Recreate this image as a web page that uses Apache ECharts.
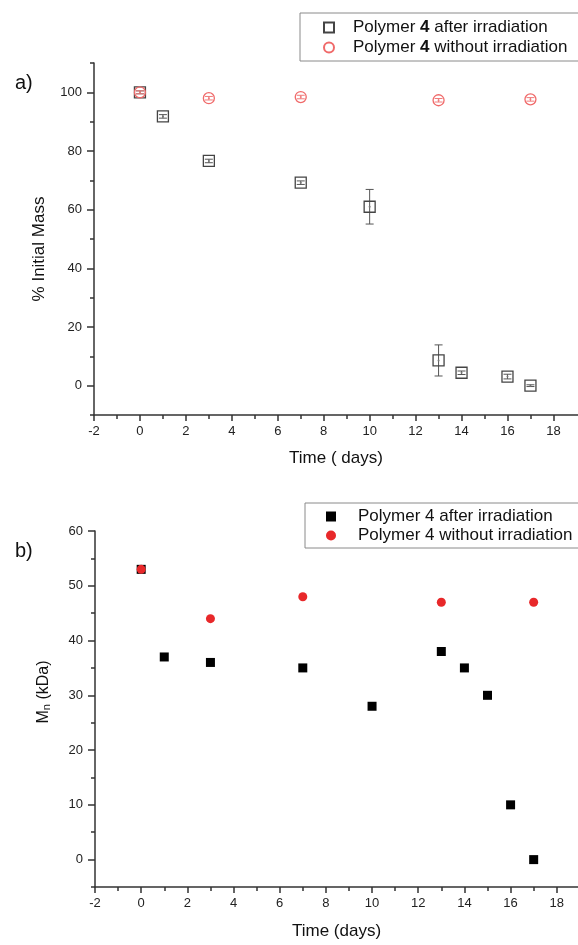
<!DOCTYPE html>
<html>
<head>
<meta charset="utf-8">
<script src="https://cdn.jsdelivr.net/npm/echarts@6/dist/echarts.min.js"></script>
<style>
  html, body { margin: 0; padding: 0; background: #fff; }
  #massChart { width: 578px; height: 472px; }
  #mnChart { width: 578px; height: 473px; }
</style>
</head>
<body>
<!-- a) mass loss, b) molecular weight -->
<div id="massChart"></div>
<div id="mnChart"></div>

<script>
// ---- data ----
var irrDays = [0, 1, 3, 7, 10, 13, 14, 16, 17];
var massIrr = [100, 91.8, 76.6, 69.2, 61, 8.6, 4.4, 3.1, 0];
var massIrrErr = [0.5, 0.6, 0.6, 0.6, 5.9, 5.3, 0.6, 0.8, 0.3];

var ctrlDays = [0, 3, 7, 13, 17];
var massCtrl = [100, 98, 98.4, 97.3, 97.6];
var massCtrlErr = [0.5, 0.6, 0.6, 0.6, 0.6];

var mnIrrDays = [0, 1, 3, 7, 10, 13, 14, 15, 16, 17];
var mnIrr = [53, 37, 36, 35, 28, 38, 35, 30, 10, 0];
var mnCtrlDays = [0, 3, 7, 13, 17];
var mnCtrl = [53, 44, 48, 47, 47];

var xMajor = [-2, 0, 2, 4, 6, 8, 10, 12, 14, 16, 18];
var xMinor = [-1, 1, 3, 5, 7, 9, 11, 13, 15, 17];
var massMajor = [0, 20, 40, 60, 80, 100];
var massMinor = [-10, 10, 30, 50, 70, 90, 110];
var mnMajor = [0, 10, 20, 30, 40, 50, 60];
var mnMinor = [-5, 5, 15, 25, 35, 45, 55];

var nameIrr = 'Polymer 4 after irradiation';
var nameCtrl = 'Polymer 4 without irradiation';

var FONT = '"Liberation Sans", Arial, sans-serif';
var INK = '#333';

function pairs(xs, ys, errs) {
  return xs.map(function (x, i) {
    return errs ? [x, ys[i], errs[i]] : [x, ys[i]];
  });
}

// axis pair: main one with labels + long ticks, a bare one for the minor ticks
function axisPair(min, max, major, minor, name, isX) {
  var main = {
    type: 'value', min: min, max: max,
    name: name, nameLocation: 'middle',
    axisLine: { show: true, onZero: false, lineStyle: { color: INK, width: 1.5 } },
    axisTick: { show: true, customValues: major, length: isX ? 6 : 7, lineStyle: { color: INK, width: 1.5 } },
    axisLabel: { customValues: major, color: '#222', fontSize: 13, fontFamily: FONT, margin: isX ? 10 : 12 },
    splitLine: { show: false }
  };
  var bare = {
    type: 'value', min: min, max: max,
    axisLine: { show: false, onZero: false },
    axisTick: { show: true, customValues: minor, length: 4, lineStyle: { color: INK, width: 1.5 } },
    axisLabel: { show: false },
    splitLine: { show: false }
  };
  if (isX) { main.position = 'bottom'; bare.position = 'bottom'; }
  else { main.position = 'left'; bare.position = 'left'; }
  return [main, bare];
}

function errorBars(color) {
  return function (params, api) {
    var x = api.value(0), y = api.value(1), e = api.value(2);
    var hi = api.coord([x, y + e]);
    var lo = api.coord([x, y - e]);
    var w = 4;
    var st = { stroke: color, lineWidth: 1 };
    return {
      type: 'group',
      children: [
        { type: 'line', shape: { x1: hi[0], y1: hi[1], x2: lo[0], y2: lo[1] }, style: st },
        { type: 'line', shape: { x1: hi[0] - w, y1: hi[1], x2: hi[0] + w, y2: hi[1] }, style: st },
        { type: 'line', shape: { x1: lo[0] - w, y1: lo[1], x2: lo[0] + w, y2: lo[1] }, style: st }
      ]
    };
  };
}

// ================= a) =================
var massX = axisPair(-2, 19.07, xMajor, xMinor, 'Time ( days)', true);
massX[0].nameGap = 35;
massX[0].nameTextStyle = { fontSize: 17, fontFamily: FONT, color: '#111' };
var massY = axisPair(-10, 110, massMajor, massMinor, '% Initial Mass', false);
massY[0].nameGap = 46;
massY[0].nameTextStyle = { fontSize: 17, fontFamily: FONT, color: '#111', padding: [0, 20, 0, 0] };

var chartA = echarts.init(document.getElementById('massChart'));
chartA.setOption({
  animation: false,
  title: {
    text: 'a)', left: 15, top: 73, padding: 0,
    textStyle: { fontSize: 20, fontWeight: 'normal', fontFamily: FONT, color: '#111' }
  },
  legend: {
    orient: 'vertical', left: 300, top: 13,
    padding: [6, 30, 5, 23],
    itemWidth: 10, itemHeight: 10, itemGap: 3,
    borderColor: '#8a8a8a', borderWidth: 1,
    selectedMode: false,
    data: [nameIrr, nameCtrl],
    formatter: function (n) { return n.replace('4', '{b|4}'); },
    textStyle: {
      fontSize: 17, fontFamily: FONT, color: '#111', padding: [0, 0, 0, 14],
      rich: { b: { fontSize: 17, fontFamily: FONT, color: '#111', fontWeight: 'bold' } }
    }
  },
  grid: { left: 94, top: 63, width: 484, height: 353 },
  xAxis: massX,
  yAxis: massY,
  series: [
    {
      type: 'custom', name: 'irrErr', renderItem: errorBars('#555'),
      data: pairs(irrDays, massIrr, massIrrErr), clip: false, silent: true
    },
    {
      type: 'custom', name: 'ctrlErr', renderItem: errorBars('#f07a7a'),
      data: pairs(ctrlDays, massCtrl, massCtrlErr), clip: false, silent: true
    },
    {
      type: 'scatter', name: nameIrr, symbol: 'rect', symbolSize: 11,
      itemStyle: { color: 'rgba(0,0,0,0)', borderColor: '#444', borderWidth: 1.3, opacity: 1 },
      data: pairs(irrDays, massIrr), emphasis: { disabled: true }
    },
    {
      type: 'scatter', name: nameCtrl, symbol: 'circle', symbolSize: 11,
      itemStyle: { color: 'rgba(0,0,0,0)', borderColor: '#f06a6a', borderWidth: 1.3, opacity: 1 },
      data: pairs(ctrlDays, massCtrl), emphasis: { disabled: true }
    },
    {
      type: 'scatter', name: 'dotsIrr', symbolSize: 2, silent: true,
      itemStyle: { color: '#777', opacity: 1 }, data: pairs(irrDays, massIrr)
    },
    {
      type: 'scatter', name: 'dotsCtrl', symbolSize: 2, silent: true,
      itemStyle: { color: '#f08080', opacity: 1 }, data: pairs(ctrlDays, massCtrl)
    }
  ]
});

// ================= b) =================
var mnX = axisPair(-2, 18.92, xMajor, xMinor, 'Time (days)', true);
mnX[0].nameGap = 36;
mnX[0].nameTextStyle = { fontSize: 17, fontFamily: FONT, color: '#111' };
var mnY = axisPair(-5, 60, mnMajor, mnMinor, '{m|M}{s|n}{m| (kDa)}', false);
mnY[0].nameGap = 43;
mnY[0].nameTextStyle = {
  fontSize: 16, fontFamily: FONT, color: '#111', padding: [0, 0, 0, 34],
  rich: {
    m: { fontSize: 16, fontFamily: FONT, color: '#111' },
    s: { fontSize: 11, fontFamily: FONT, color: '#111', verticalAlign: 'bottom', padding: [6, 0, 0, 0] }
  }
};

var chartB = echarts.init(document.getElementById('mnChart'));
chartB.setOption({
  animation: false,
  title: {
    text: 'b)', left: 15, top: 69, padding: 0,
    textStyle: { fontSize: 20, fontWeight: 'normal', fontFamily: FONT, color: '#111' }
  },
  legend: {
    orient: 'vertical', left: 305, top: 31,
    padding: [5, 20, 4, 21],
    itemWidth: 10, itemHeight: 10, itemGap: 2,
    borderColor: '#8a8a8a', borderWidth: 1,
    selectedMode: false,
    data: [nameIrr, nameCtrl],
    textStyle: { fontSize: 17, fontFamily: FONT, color: '#111', padding: [0, 0, 0, 17] }
  },
  grid: { left: 95, top: 59, width: 483, height: 360 },
  xAxis: mnX,
  yAxis: mnY,
  series: [
    {
      type: 'scatter', name: nameIrr, symbol: 'rect', symbolSize: 9,
      itemStyle: { color: '#000', opacity: 1 },
      data: pairs(mnIrrDays, mnIrr), emphasis: { disabled: true }
    },
    {
      type: 'scatter', name: nameCtrl, symbol: 'circle', symbolSize: 9,
      itemStyle: { color: '#e8282a', opacity: 1 },
      data: pairs(mnCtrlDays, mnCtrl), emphasis: { disabled: true }
    }
  ]
});
</script>
</body>
</html>
